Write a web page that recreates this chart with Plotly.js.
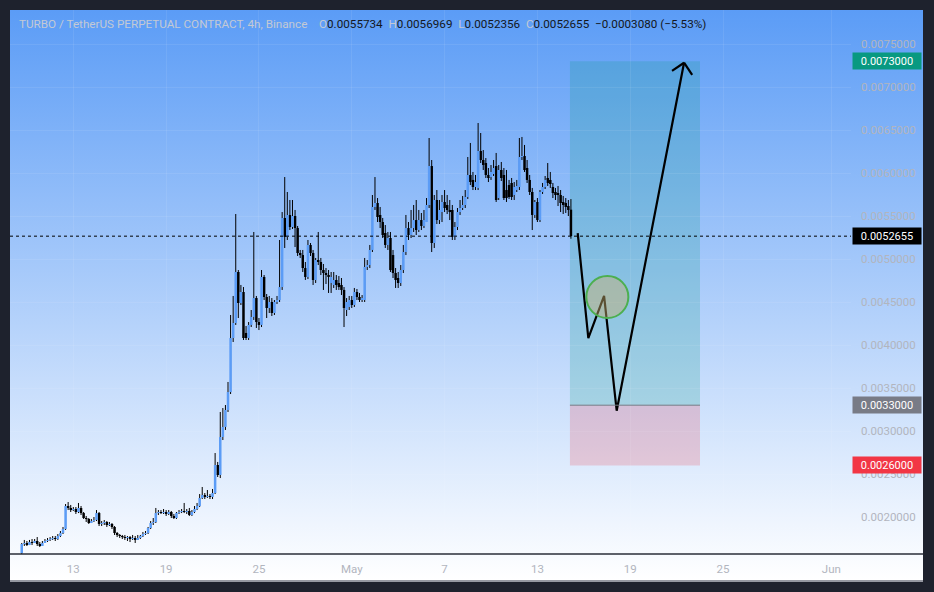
<!DOCTYPE html>
<html><head><meta charset="utf-8">
<script src="https://cdn.plot.ly/plotly-3.0.1.min.js"></script>
<style>
html,body{margin:0;padding:0;background:#1e222d;width:934px;height:592px;overflow:hidden;}
#panel{position:absolute;left:10px;top:10px;width:913px;height:570px;background:linear-gradient(to bottom,#5b9cf6 0%,#ffffff 100%);border-bottom:2px solid #9598a1;}
#chart{position:absolute;left:0;top:0;width:934px;height:592px;}
</style></head><body>
<div id="panel"></div><div id="chart"></div>
<script>
// ---- data ----
const firstCandle = '2024-04-09T16:00:00Z';
const candleHours = 4;
const open = [
0.001581,0.001686,0.001698,0.001674,0.001709,0.001698,0.001721,0.001686,0.001663,0.001698,
0.001721,0.001733,0.001744,0.001756,0.001744,0.001779,0.001814,0.001860,0.002128,0.002105,
0.002081,0.002093,0.002058,0.002105,0.002046,0.001988,0.001977,0.001930,0.001953,0.001965,
0.002046,0.001919,0.001930,0.001942,0.001907,0.001919,0.001884,0.001814,0.001791,0.001779,
0.001767,0.001756,0.001767,0.001744,0.001756,0.001733,0.001756,0.001779,0.001802,0.001814,
0.001872,0.001930,0.001942,0.002046,0.002058,0.002046,0.002058,0.002035,0.002058,0.002012,
0.001988,0.002046,0.002058,0.002070,0.002058,0.002070,0.002023,0.002058,0.002093,0.002128,
0.002221,0.002256,0.002233,0.002244,0.002233,0.002279,0.002605,0.002488,0.002930,0.003047,
0.003244,0.003453,0.004081,0.004256,0.004849,0.004488,0.004616,0.004140,0.004081,0.004233,
0.004326,0.004546,0.004267,0.004233,0.004791,0.004558,0.004430,0.004500,0.004372,0.004500,
0.004523,0.004674,0.005477,0.005256,0.005512,0.005372,0.005500,0.005360,0.005070,0.005046,
0.004895,0.004791,0.005163,0.005070,0.004756,0.004988,0.004965,0.004872,0.004837,0.004814,
0.004721,0.004698,0.004756,0.004721,0.004698,0.004640,0.004407,0.004442,0.004523,0.004465,
0.004616,0.004558,0.004523,0.004523,0.004907,0.004930,0.005105,0.005605,0.005651,0.005512,
0.005430,0.005302,0.005163,0.005244,0.005046,0.004837,0.004779,0.004721,0.004872,0.005081,
0.005360,0.005279,0.005360,0.005453,0.005337,0.005453,0.005384,0.005430,0.005628,0.006081,
0.005186,0.005686,0.005453,0.005546,0.005663,0.005628,0.005570,0.005570,0.005256,0.005372,
0.005546,0.005593,0.005628,0.005721,0.005977,0.005919,0.005837,0.005826,0.006256,0.006151,
0.006116,0.005977,0.005953,0.005988,0.006081,0.005709,0.006035,0.005977,0.005802,0.005860,
0.005884,0.005744,0.005802,0.005837,0.006186,0.006198,0.006058,0.005919,0.005779,0.005512,
0.005663,0.005453,0.005779,0.005837,0.005942,0.005919,0.005837,0.005779,0.005767,0.005744,
0.005663,0.005651,0.005616,0.0055734];
const high = [
0.001698,0.001733,0.001721,0.001733,0.001744,0.001744,0.001767,0.001709,0.001721,0.001744,
0.001756,0.001767,0.001779,0.001779,0.001802,0.001837,0.001884,0.002151,0.002174,0.002140,
0.002116,0.002116,0.002163,0.002128,0.002058,0.002012,0.001988,0.001977,0.002000,0.002081,
0.002058,0.001953,0.001965,0.001953,0.001942,0.001930,0.001895,0.001826,0.001802,0.001791,
0.001791,0.001779,0.001779,0.001791,0.001779,0.001791,0.001791,0.001826,0.001837,0.001884,
0.001953,0.001988,0.002105,0.002081,0.002081,0.002093,0.002081,0.002081,0.002070,0.002035,
0.002058,0.002081,0.002093,0.002163,0.002093,0.002105,0.002081,0.002128,0.002163,0.002267,
0.002349,0.002279,0.002314,0.002267,0.002326,0.002744,0.002640,0.003221,0.003267,0.003302,
0.003570,0.004349,0.004570,0.005523,0.004872,0.004698,0.004674,0.004221,0.004267,0.004407,
0.005314,0.004570,0.004314,0.004872,0.004814,0.004593,0.004570,0.004546,0.004523,0.004570,
0.005221,0.005546,0.005953,0.005779,0.005686,0.005686,0.005570,0.005384,0.005105,0.005105,
0.004965,0.005221,0.005186,0.005105,0.005012,0.005314,0.005012,0.004942,0.004895,0.004872,
0.004849,0.004849,0.004814,0.004802,0.004779,0.004674,0.004546,0.004570,0.004570,0.004663,
0.004651,0.004605,0.004581,0.005012,0.004988,0.005163,0.005744,0.005953,0.005709,0.005605,
0.005477,0.005395,0.005314,0.005314,0.005105,0.004895,0.004849,0.004930,0.005163,0.005512,
0.005430,0.005570,0.005628,0.005686,0.005570,0.005535,0.005570,0.005709,0.006407,0.006151,
0.005744,0.005802,0.005686,0.005744,0.005802,0.005744,0.005686,0.005628,0.005430,0.005593,
0.005686,0.005733,0.005802,0.006186,0.006349,0.006012,0.005977,0.006581,0.006465,0.006267,
0.006174,0.006058,0.006093,0.006151,0.006233,0.006093,0.006128,0.006058,0.006035,0.005919,
0.005942,0.005895,0.005919,0.006407,0.006419,0.006326,0.006151,0.005977,0.005826,0.005686,
0.005709,0.005802,0.005884,0.005965,0.006116,0.006012,0.005884,0.005826,0.005849,0.005802,
0.005733,0.005709,0.005686,0.0056969];
const low = [
0.001570,0.001663,0.001663,0.001674,0.001674,0.001698,0.001663,0.001651,0.001663,0.001698,
0.001709,0.001721,0.001733,0.001721,0.001733,0.001767,0.001802,0.001849,0.002081,0.002058,
0.002070,0.002035,0.002046,0.002023,0.001977,0.001942,0.001919,0.001930,0.001942,0.001953,
0.001895,0.001895,0.001907,0.001884,0.001895,0.001860,0.001791,0.001767,0.001756,0.001744,
0.001733,0.001721,0.001709,0.001733,0.001698,0.001733,0.001744,0.001767,0.001791,0.001802,
0.001860,0.001907,0.001930,0.002023,0.002035,0.002035,0.002012,0.002023,0.001988,0.001977,
0.001977,0.002035,0.002046,0.002046,0.002035,0.002012,0.002012,0.002046,0.002081,0.002116,
0.002209,0.002209,0.002221,0.002209,0.002209,0.002267,0.002465,0.002453,0.002895,0.003012,
0.003221,0.003430,0.004035,0.004233,0.004314,0.004465,0.004058,0.004058,0.004058,0.004209,
0.004291,0.004198,0.004174,0.004209,0.004523,0.004314,0.004372,0.004337,0.004349,0.004477,
0.004500,0.004640,0.005128,0.005221,0.005337,0.005349,0.005139,0.005035,0.005012,0.004849,
0.004756,0.004767,0.005035,0.004698,0.004721,0.004930,0.004814,0.004640,0.004709,0.004605,
0.004605,0.004663,0.004640,0.004640,0.004581,0.004209,0.004337,0.004407,0.004430,0.004442,
0.004523,0.004500,0.004500,0.004500,0.004872,0.004895,0.005081,0.005570,0.005430,0.005360,
0.005244,0.005128,0.005105,0.004849,0.004779,0.004663,0.004663,0.004686,0.004837,0.005046,
0.005221,0.005244,0.005314,0.005279,0.005314,0.005337,0.005360,0.005430,0.005593,0.005081,
0.005128,0.005407,0.005407,0.005430,0.005546,0.005523,0.005453,0.005221,0.005221,0.005337,
0.005512,0.005570,0.005593,0.005698,0.005860,0.005802,0.005802,0.005802,0.006116,0.006035,
0.005942,0.005895,0.005919,0.005965,0.005663,0.005686,0.005907,0.005686,0.005663,0.005698,
0.005686,0.005686,0.005779,0.005802,0.006151,0.006012,0.005884,0.005744,0.005337,0.005477,
0.005430,0.005430,0.005756,0.005814,0.005849,0.005826,0.005709,0.005686,0.005616,0.005546,
0.005523,0.005535,0.005500,0.0052356];
const close = [
0.001686,0.001698,0.001674,0.001709,0.001698,0.001721,0.001686,0.001663,0.001698,0.001721,
0.001733,0.001744,0.001756,0.001744,0.001779,0.001814,0.001860,0.002128,0.002105,0.002081,
0.002093,0.002058,0.002105,0.002046,0.001988,0.001977,0.001930,0.001953,0.001965,0.002046,
0.001919,0.001930,0.001942,0.001907,0.001919,0.001884,0.001814,0.001791,0.001779,0.001767,
0.001756,0.001767,0.001744,0.001756,0.001733,0.001756,0.001779,0.001802,0.001814,0.001872,
0.001930,0.001942,0.002046,0.002058,0.002046,0.002058,0.002035,0.002058,0.002012,0.001988,
0.002046,0.002058,0.002070,0.002058,0.002070,0.002023,0.002058,0.002093,0.002128,0.002221,
0.002256,0.002233,0.002244,0.002233,0.002279,0.002605,0.002488,0.002930,0.003047,0.003244,
0.003453,0.004081,0.004256,0.004849,0.004488,0.004616,0.004081,0.004081,0.004233,0.004326,
0.004546,0.004267,0.004233,0.004791,0.004558,0.004430,0.004500,0.004372,0.004500,0.004523,
0.004674,0.005477,0.005256,0.005512,0.005372,0.005500,0.005360,0.005070,0.005046,0.004895,
0.004791,0.005163,0.005070,0.004756,0.004988,0.004965,0.004872,0.004837,0.004814,0.004791,
0.004791,0.004756,0.004698,0.004674,0.004640,0.004430,0.004500,0.004523,0.004465,0.004616,
0.004558,0.004523,0.004546,0.004907,0.004930,0.005105,0.005605,0.005651,0.005488,0.005430,
0.005279,0.005163,0.005244,0.004872,0.004837,0.004756,0.004721,0.004872,0.005081,0.005360,
0.005279,0.005360,0.005453,0.005337,0.005453,0.005384,0.005453,0.005628,0.006081,0.005186,
0.005686,0.005453,0.005570,0.005663,0.005593,0.005570,0.005546,0.005256,0.005372,0.005546,
0.005593,0.005628,0.005721,0.005977,0.005895,0.005837,0.005895,0.006256,0.006151,0.006093,
0.005977,0.005942,0.006012,0.006058,0.005686,0.006035,0.005942,0.005709,0.005709,0.005721,
0.005721,0.005837,0.005849,0.006186,0.006198,0.006035,0.005919,0.005779,0.005512,0.005663,
0.005453,0.005779,0.005837,0.005919,0.005884,0.005872,0.005767,0.005744,0.005744,0.005651,
0.005628,0.005605,0.005570,0.0052655];

// x-axis ticks
const tickDates = ['2024-04-13','2024-04-19','2024-04-25','2024-05-01','2024-05-07','2024-05-13','2024-05-19','2024-05-25','2024-06-01'];
const tickLabels = ['13','19','25','May','7','13','19','25','Jun'];
const priceTicks = [0.002,0.0025,0.003,0.0035,0.004,0.0045,0.005,0.0055,0.006,0.0065,0.007,0.0075];

// position tool (long)
const positionStart = '2024-05-15 02:25';
const positionEnd = '2024-05-23 12:15';
const entryPrice = 0.0033;
const targetPrice = 0.0073;
const stopPrice = 0.0026;

// projected path
const pathTimes = ['2024-05-15 14:30','2024-05-16 07:00','2024-05-17 07:25','2024-05-18 03:00','2024-05-22 11:30'];
const pathPrices = [0.005302,0.004081,0.004570,0.003236,0.007282];
const circleTime = '2024-05-17 12:30';
const circlePrice = 0.004558;

// header values
const headerTitle = 'TURBO / TetherUS PERPETUAL CONTRACT, 4h, Binance';
const lastO = '0.0055734', lastH = '0.0056969', lastL = '0.0052356', lastC = '0.0052655';
const lastChange = '\u22120.0003080 (\u22125.53%)';

// ---- build ----
const xRange = ['2024-04-08 21:47','2024-06-02 06:30'];
const yRange = [0.0015698, 0.0078953];
const W = 934, H = 592, M = {l:10, r:83, t:10, b:38};
const n = close.length;
const t0 = Date.parse(firstCandle);
const times = [];
for (let i = 0; i < n; i++) {
  times.push(new Date(t0 + i * candleHours * 3600000).toISOString().slice(0,16).replace('T',' '));
}
const UP = '#5b9cf6', DOWN = '#000000';
const wx = [], wy = [], ux = [], uy = [], dx = [], dy = [];
const minBody = 0.000012;
for (let i = 0; i < n; i++) {
  wx.push(times[i], times[i], null); wy.push(low[i], high[i], null);
  let lo = Math.min(open[i], close[i]), hi = Math.max(open[i], close[i]);
  if (hi - lo < minBody) { const m = (hi + lo) / 2; lo = m - minBody/2; hi = m + minBody/2; }
  if (close[i] >= open[i]) { ux.push(times[i], times[i], null); uy.push(lo, hi, null); }
  else { dx.push(times[i], times[i], null); dy.push(lo, hi, null); }
}
const lastClose = close[n-1];

// arrowhead barbs computed through the axis scales (pixel-based angle)
const toMs = s => Date.parse(s.replace(' ','T') + (s.length <= 10 ? 'T00:00:00Z' : ':00Z'));
const msPerPx = (toMs(xRange[1]) - toMs(xRange[0])) / (W - M.l - M.r);
const pricePerPx = (yRange[1] - yRange[0]) / (H - M.t - M.b);
const tipMs = toMs(pathTimes[4]), prevMs = toMs(pathTimes[3]);
const vx = (prevMs - tipMs) / msPerPx, vy = -(pathPrices[3] - pathPrices[4]) / pricePerPx;
const vl = Math.hypot(vx, vy), ux0 = vx / vl, uy0 = vy / vl;
const barbLen = 14.5, barbAng = 45 * Math.PI / 180;
const barbX = [], barbY = [];
[-1, 1].forEach((s, k) => {
  const c = Math.cos(s * barbAng), sn = Math.sin(s * barbAng);
  const bx = ux0 * c - uy0 * sn, by = ux0 * sn + uy0 * c;
  const ms = tipMs + bx * barbLen * msPerPx;
  const pr = pathPrices[4] - by * barbLen * pricePerPx;
  barbX.push(new Date(ms).toISOString().slice(0,16).replace('T',' '), pathTimes[4]);
  barbY.push(pr, pathPrices[4]);
  if (k === 0) { barbX.push(null); barbY.push(null); }
});

const traces = [
  {type:'scatter', mode:'lines', x:wx, y:wy, line:{color:'#000000', width:1}, hoverinfo:'skip'},
  {type:'scatter', mode:'lines', x:dx, y:dy, line:{color:DOWN, width:2.5}, hoverinfo:'skip'},
  {type:'scatter', mode:'lines', x:ux, y:uy, line:{color:UP, width:2.5}, hoverinfo:'skip'},
  {type:'scatter', mode:'lines', x:pathTimes, y:pathPrices, line:{color:'#000000', width:2.2}, hoverinfo:'skip'},
  {type:'scatter', mode:'lines', x:barbX, y:barbY, line:{color:'#000000', width:2.2}, hoverinfo:'skip'}
];

const lblFont = {family:'Roboto, "Liberation Sans", sans-serif', size:11, color:'#ffffff'};
function priceLabel(v, bg){
  return {xref:'paper', yref:'y', x:1, y:v, xanchor:'left', yanchor:'middle', xshift:1,
    text:v.toFixed(7), showarrow:false, bgcolor:bg, font:lblFont, width:68, height:16, align:'center', borderpad:0};
}

const layout = {
  width:W, height:H,
  margin:{l:M.l, r:M.r, t:M.t, b:M.b, pad:0},
  paper_bgcolor:'rgba(0,0,0,0)', plot_bgcolor:'rgba(0,0,0,0)',
  showlegend:false, hovermode:false, dragmode:false,
  font:{family:'Roboto, "Liberation Sans", sans-serif', size:11, color:'#b2b5be'},
  xaxis:{type:'date', range:xRange, tickmode:'array', tickvals:tickDates, ticktext:tickLabels,
    showgrid:true, gridcolor:'rgba(255,255,255,0.08)', gridwidth:1, zeroline:false, showline:false, ticks:'',
    ticklabelstandoff:6, tickfont:{size:11.5, color:'#b2b5be'}, fixedrange:true},
  yaxis:{side:'right', range:yRange, tickmode:'array', tickvals:priceTicks, tickformat:'.7f',
    showgrid:true, gridcolor:'rgba(255,255,255,0.08)', gridwidth:1, zeroline:false, showline:false, ticks:'',
    ticklabelstandoff:9, tickfont:{size:11.5, color:'#b2b5be'}, fixedrange:true},
  shapes:[
    {type:'rect', xref:'x', yref:'y', x0:positionStart, x1:positionEnd, y0:entryPrice, y1:targetPrice, fillcolor:'rgba(8,153,129,0.2)', line:{width:0}, layer:'below'},
    {type:'rect', xref:'x', yref:'y', x0:positionStart, x1:positionEnd, y0:stopPrice, y1:entryPrice, fillcolor:'rgba(242,54,69,0.2)', line:{width:0}, layer:'below'},
    {type:'line', xref:'x', yref:'y', x0:positionStart, x1:positionEnd, y0:entryPrice, y1:entryPrice, line:{color:'#787b86', width:1}},
    {type:'line', xref:'paper', yref:'y', x0:0, x1:1, y0:lastClose, y1:lastClose, line:{color:'#000000', width:1, dash:'dot'}},
    {type:'circle', xref:'x', yref:'y', xsizemode:'pixel', ysizemode:'pixel', xanchor:circleTime, yanchor:circlePrice,
      x0:-21, x1:21, y0:-21, y1:21, fillcolor:'rgba(200,175,110,0.45)', line:{color:'#4caf50', width:2}},
    {type:'line', xref:'paper', yref:'paper', x0:0, x1:1.0856, y0:0, y1:0, line:{color:'#2a2e39', width:1.5}}
  ],
  annotations:[
    {xref:'paper', yref:'paper', x:0, y:1, xanchor:'left', yanchor:'middle', xshift:7, yshift:-14, showarrow:false,
      text:headerTitle, font:{family:'Roboto, "Liberation Sans", sans-serif', size:11.7, color:'#c3c9d4'}},
    {xref:'paper', yref:'paper', x:0, y:1, xanchor:'left', yanchor:'middle', xshift:307, yshift:-14, showarrow:false,
      text:'<span style="color:#c3c9d4">O</span>'+lastO+'\u00a0\u00a0<span style="color:#c3c9d4">H</span>'+lastH+'\u00a0\u00a0<span style="color:#c3c9d4">L</span>'+lastL+'\u00a0\u00a0<span style="color:#c3c9d4">C</span>'+lastC+'\u00a0\u00a0'+lastChange,
      font:{family:'Roboto, "Liberation Sans", sans-serif', size:11.7, color:'#131722'}},
    priceLabel(targetPrice, '#089981'),
    priceLabel(lastClose, '#000000'),
    priceLabel(entryPrice, '#787b86'),
    priceLabel(stopPrice, '#f23645')
  ]
};

Plotly.newPlot('chart', traces, layout, {staticPlot:true, displayModeBar:false});
</script>
</body></html>
